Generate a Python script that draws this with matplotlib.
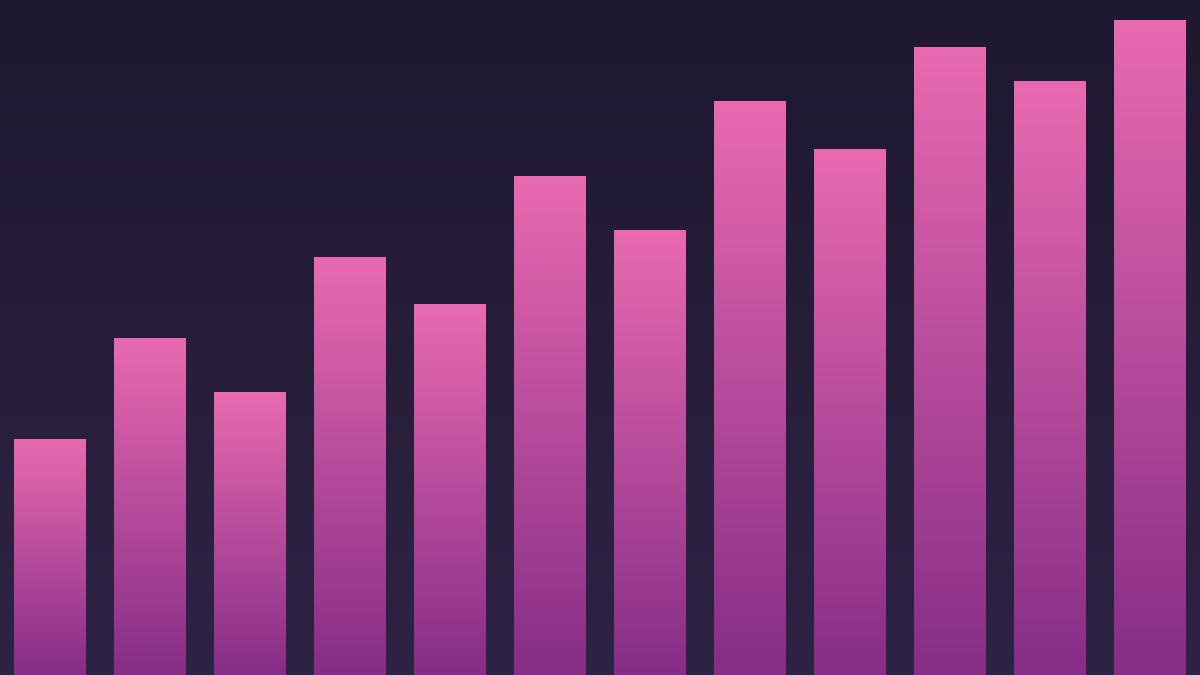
import numpy as np
import matplotlib.pyplot as plt
from matplotlib.colors import LinearSegmentedColormap

# bar values (axis runs 0-100)
positions = list(range(12))
values = [35, 50, 42, 62, 55, 74, 66, 85, 78, 93, 88, 97]

bar_cmap = LinearSegmentedColormap.from_list("bar", ["#862d86", "#e96ab1"])
bg_cmap = LinearSegmentedColormap.from_list("bg", ["#2f2345", "#1e1830"])

fig = plt.figure(figsize=(12, 6.75), dpi=100)
ax = fig.add_axes([0, 0, 1, 1])
ax.set_xlim(-0.5, 11.5)
ax.set_ylim(0, 100)
ax.axis("off")

# background gradient, dark at top, a bit lighter at bottom
grad = np.linspace(0, 1, 256).reshape(-1, 1)
ax.imshow(grad, cmap=bg_cmap, aspect="auto", extent=(-0.5, 11.5, 0, 100),
          origin="lower", zorder=0)

bars = ax.bar(positions, values, width=0.72, color="none", edgecolor="none", zorder=2)
for b in bars:
    x0, y0 = b.get_x(), b.get_y()
    w, h = b.get_width(), b.get_height()
    img = ax.imshow(grad, cmap=bar_cmap, aspect="auto",
                    extent=(x0, x0 + w, y0, y0 + h), origin="lower", zorder=3)
    img.set_clip_path(b)

ax.set_xlim(-0.5, 11.5)
ax.set_ylim(0, 100)
fig.savefig("out.png", dpi=100)
